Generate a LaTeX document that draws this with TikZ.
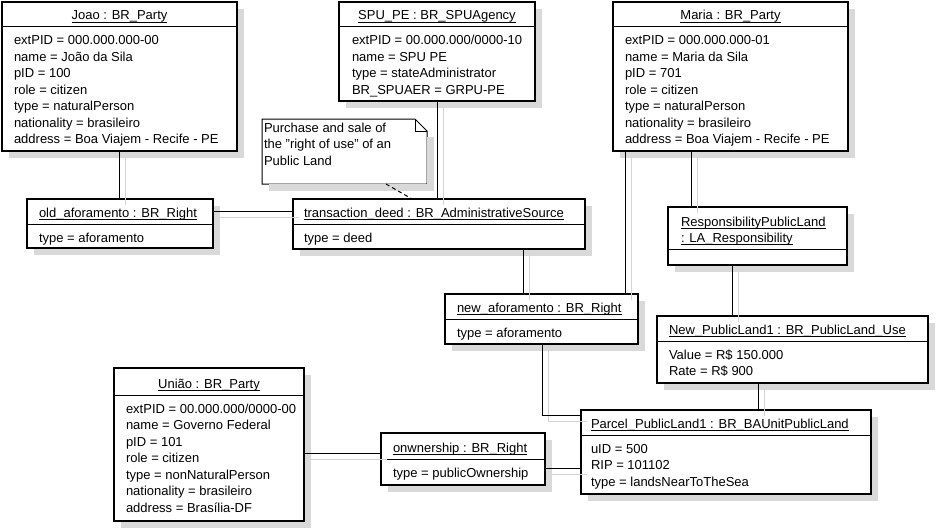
\documentclass[tikz,border=0pt]{standalone}
\usepackage{fontspec}
\setmainfont{Liberation Sans}
\definecolor{lineshadow}{RGB}{212,212,212}
\newcommand\ulx[1]{\setbox0\hbox{#1}\rlap{\rule[-2.6pt]{\wd0}{0.9pt}}\box0}
\newcommand\objbox[6]{%
  \node[objbox, anchor=north west, minimum width={#4-#2}, minimum height={#5-#3}] (#1) at (#2,#3) {};
  \draw[sepline] (#2,#6) -- (#4,#6);
}
\newcommand\shadowof[1]{%
  \fill[black!15] ([shift={(-5pt,-1pt)}]#1.north east) rectangle ([shift={(1pt,1pt)}]#1.south east);
  \fill[black!15] ([shift={(1pt,5pt)}]#1.south west) rectangle ([shift={(1pt,-1pt)}]#1.south east);
}
\newcommand\allconnectors[1]{%
  \draw[conn,#1] ([xshift=117pt]joao.south west) -- ([xshift=92pt]old.north west);
  \draw[conn,#1] ([yshift=-12pt]old.north east) -- ([yshift=-12pt]trans.north west);
  \draw[conn,#1] ([xshift=98pt]spu.south west) -- ([xshift=144pt]trans.north west);
  \draw[conn,#1] ([xshift=230pt]trans.south west) -- ([xshift=78pt]new.north west);
  \draw[conn,#1] ([xshift=12pt]maria.south west) -- ([xshift=180pt]new.north west);
  \draw[conn,#1] ([xshift=78pt]maria.south west) -- ([xshift=23pt]resp.north west);
  \draw[conn,#1] ([xshift=64pt]resp.south west) -- ([xshift=75pt]newpl.north west);
  \draw[conn,#1] ([xshift=101pt]newpl.south west) -- ([xshift=177pt]parcel.north west);
  \draw[conn,#1] ([xshift=97pt]new.south west) |- ([yshift=-5pt]parcel.north west);
  \draw[conn,#1] ([yshift=-85pt]uniao.north east) -- ([yshift=-20pt]own.north west);
  \draw[conn,#1] ([yshift=-35pt]own.north east) -- ([yshift=-58pt]parcel.north west);
}
\begin{document}
\begin{tikzpicture}[x=1pt,y=-1pt,
  objbox/.style={draw=black, line width=2pt, fill=white, inner sep=0pt, outer sep=0pt},
  sepline/.style={line width=1pt},
  ttext/.style={inner sep=0pt, outer sep=0pt, font=\fontsize{13}{16.5}\selectfont},
  conn/.style={line width=1pt}
]
\fill[white] (0,0) rectangle (936,527);
\useasboundingbox (0,0) rectangle (936,527);

% Joao
\objbox{joao}{2}{2}{237}{151}{27}
\node[ttext, anchor=base] (joaot) at (119.5,20) {\ulx{Joao : BR\_Party}};
\node[ttext, anchor=base west] (joaoa) at (14,45) {\begin{tabular}[t]{@{}l@{}}extPID = 000.000.000-00\\ name = João da Sila\\ pID = 100\\ role = citizen\\ type = naturalPerson\\ nationality = brasileiro\\ address = Boa Viajem - Recife - PE\end{tabular}};

% SPU
\objbox{spu}{339}{2}{535}{101}{27}
\node[ttext, anchor=base] (sput) at (437,20) {\ulx{SPU\_PE : BR\_SPUAgency}};
\node[ttext, anchor=base west] (spua) at (352,45) {\begin{tabular}[t]{@{}l@{}}extPID = 00.000.000/0000-10\\ name = SPU PE\\ type = stateAdministrator\\ BR\_SPUAER = GRPU-PE\end{tabular}};

% Maria
\objbox{maria}{613}{2}{848}{151}{27}
\node[ttext, anchor=base] (mariat) at (730.5,20) {\ulx{Maria : BR\_Party}};
\node[ttext, anchor=base west] (mariaa) at (625,45) {\begin{tabular}[t]{@{}l@{}}extPID = 000.000.000-01\\ name = Maria da Sila\\ pID = 701\\ role = citizen\\ type = naturalPerson\\ nationality = brasileiro\\ address = Boa Viajem - Recife - PE\end{tabular}};

% Note
\node[inner sep=0pt, outer sep=0pt, anchor=north west, minimum width=165, minimum height=65] (note) at (262,119) {};
\filldraw[fill=white, draw=black, line width=1pt] (note.north west) -- ([xshift=-12pt]note.north east) -- ([yshift=-12pt]note.north east) -- (note.south east) -- (note.south west) -- cycle;
\draw[line width=1pt] ([xshift=-12pt]note.north east) -- ([xshift=-12pt,yshift=-12pt]note.north east) -- ([yshift=-12pt]note.north east);
\node[ttext, anchor=base west] (notet) at (264,132) {\begin{tabular}[t]{@{}l@{}}Purchase and sale of\\ the "right of use" of an\\ Public Land\end{tabular}};

% old_aforamento
\objbox{old}{27}{199}{213}{248}{224}
\node[ttext, anchor=base west] (oldt) at (39,217) {\ulx{old\_aforamento : BR\_Right}};
\node[ttext, anchor=base west] (olda) at (39,242) {type = aforamento};

% transaction_deed
\objbox{trans}{293}{199}{585}{249}{224}
\node[ttext, anchor=base west] (transt) at (304,217) {\ulx{transaction\_deed : BR\_AdministrativeSource}};
\node[ttext, anchor=base west] (transa) at (304,242) {type = deed};

% new_aforamento
\objbox{new}{445}{294}{638}{344}{319}
\node[ttext, anchor=base west] (newt) at (457,312) {\ulx{new\_aforamento : BR\_Right}};
\node[ttext, anchor=base west] (newa) at (457,337) {type = aforamento};

% Responsibility
\objbox{resp}{668}{207}{847}{265}{249}
\node[ttext, anchor=base west] (respt) at (681,226) {\begin{tabular}[t]{@{}l@{}}\ulx{ResponsibilityPublicLand}\\ \ulx{: LA\_Responsibility}\end{tabular}};

% New_PublicLand1
\objbox{newpl}{657}{316}{928}{383}{341}
\node[ttext, anchor=base west] (newplt) at (669,334) {\ulx{New\_PublicLand1 : BR\_PublicLand\_Use}};
\node[ttext, anchor=base west] (newpla) at (669,359) {\begin{tabular}[t]{@{}l@{}}Value = R\$ 150.000\\ Rate = R\$ 900\end{tabular}};

% Uniao
\objbox{uniao}{114}{368}{304}{521}{395}
\node[ttext, anchor=base] (uniaot) at (209,388) {\ulx{União : BR\_Party}};
\node[ttext, anchor=base west] (uniaoa) at (126,413) {\begin{tabular}[t]{@{}l@{}}extPID = 00.000.000/0000-00\\ name = Governo Federal\\ pID = 101\\ role = citizen\\ type = nonNaturalPerson\\ nationality = brasileiro\\ address = Brasília-DF\end{tabular}};

% onwnership
\objbox{own}{381}{433}{545}{485}{459}
\node[ttext, anchor=base west] (ownt) at (393,452) {\ulx{onwnership : BR\_Right}};
\node[ttext, anchor=base west] (owna) at (393,477) {type = publicOwnership};

% Parcel
\objbox{parcel}{581}{410}{871}{494}{435}
\node[ttext, anchor=base west] (parcelt) at (591,428) {\ulx{Parcel\_PublicLand1 : BR\_BAUnitPublicLand}};
\node[ttext, anchor=base west] (parcela) at (591,453) {\begin{tabular}[t]{@{}l@{}}uID = 500\\ RIP = 101102\\ type = landsNearToTheSea\end{tabular}};

% shadows and connectors
\begin{scope}[transform canvas={shift={(6pt,-6pt)}}]
\shadowof{joao}\shadowof{spu}\shadowof{maria}\shadowof{old}\shadowof{trans}
\shadowof{new}\shadowof{resp}\shadowof{newpl}\shadowof{uniao}\shadowof{own}\shadowof{parcel}
\fill[black!15] ([shift={(-6pt,-12pt)}]note.north east) rectangle ([shift={(1pt,1pt)}]note.south east);
\fill[black!15] ([shift={(1pt,6pt)}]note.south west) rectangle ([shift={(1pt,-1pt)}]note.south east);
\allconnectors{lineshadow}
\end{scope}
\allconnectors{black}
\draw[line width=1pt, dash pattern=on 4pt off 3pt] ([xshift=124pt]note.south west) -- ([xshift=119pt]trans.north west);
\end{tikzpicture}
\end{document}
